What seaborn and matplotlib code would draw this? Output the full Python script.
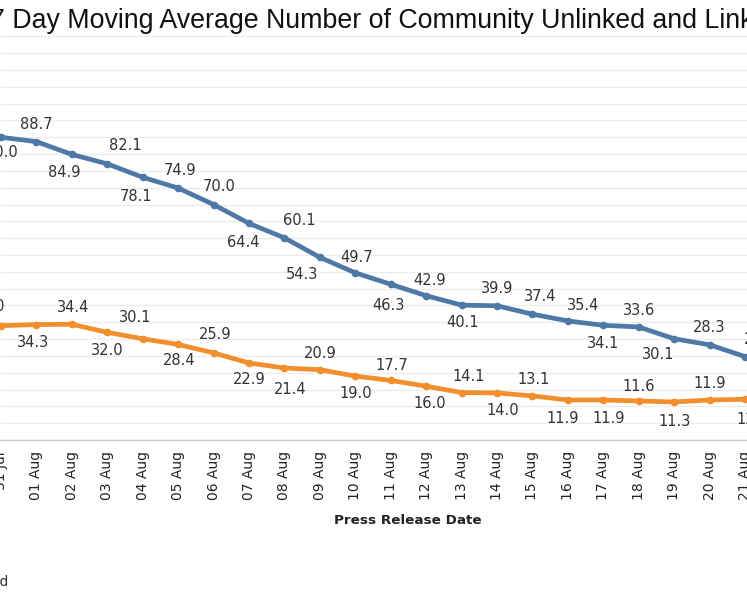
import numpy as np
import pandas as pd
import matplotlib
matplotlib.use("Agg")
import matplotlib.pyplot as plt
import seaborn as sns

# Data
dates = ["31 Jul", "01 Aug", "02 Aug", "03 Aug", "04 Aug", "05 Aug", "06 Aug",
         "07 Aug", "08 Aug", "09 Aug", "10 Aug", "11 Aug", "12 Aug", "13 Aug",
         "14 Aug", "15 Aug", "16 Aug", "17 Aug", "18 Aug", "19 Aug", "20 Aug",
         "21 Aug"]
unlinked = [90.0, 88.7, 84.9, 82.1, 78.1, 74.9, 70.0, 64.4, 60.1, 54.3, 49.7,
            46.3, 42.9, 40.1, 39.9, 37.4, 35.4, 34.1, 33.6, 30.1, 28.3, 24.8]
linked = [34.0, 34.3, 34.4, 32.0, 30.1, 28.4, 25.9, 22.9, 21.4, 20.9, 19.0,
          17.7, 16.0, 14.1, 14.0, 13.1, 11.9, 11.9, 11.6, 11.3, 11.9, 12.1]

# label placement (pixel offsets from the point, +dy = below)
unl_dx = [1, 0, -8, 18, -7, 2, 6, -6, 15, -18, 1, -2, 3, 1, 0, 8, 15, 0, 0, -16, 0, 15]
unl_dy = [15, -17, 18, -18, 19, -18, -18, 19, -17, 17, -15, 21, -15, 17, -17, -18, -15, 18, -16, 16, -17, -17]
lnk_dx = [-12, -3, 1, 0, -8, 1, 2, 0, 6, 0, 0, 1, 4, 7, 6, 1, -5, 5, 0, 0, 0, 8]
lnk_dy = [-19, 18, -17, 18, -21, 16, -18, 17, 21, -16, 17, -15, 17, -16, 18, -16, 19, 19, -14, 20, -16, 20]

BLUE = "#4e79a7"
ORANGE = "#f28e2b"

df = pd.DataFrame({
    "idx": list(range(len(dates))) * 2,
    "value": unlinked + linked,
    "series": ["Unlinked"] * len(dates) + ["Linked"] * len(dates),
})

sns.set_style("white")
plt.rcParams["font.family"] = ["DejaVu Sans"]

W, H = 747, 598
fig = plt.figure(figsize=(W / 100, H / 100), dpi=100)

# axis box: bottom at y=440px, top at y=33px, full width
px_per_day = 35.43
ax = fig.add_axes([0, (H - 440) / H, 1, 407 / H])
sns.lineplot(data=df, x="idx", y="value", hue="series",
             palette={"Unlinked": BLUE, "Linked": ORANGE},
             linewidth=3.4, marker="o", markersize=5.5, markeredgewidth=0,
             legend=False, ax=ax)

x0 = -1 / px_per_day
ax.set_xlim(x0, x0 + W / px_per_day)
ax.set_ylim(0, 121)
ax.set_yticks(np.arange(0, 125, 5))
ax.set_yticklabels([])
ax.tick_params(axis="y", length=0)
ax.grid(axis="y", color="#ececec", linewidth=1)
ax.set_axisbelow(True)

ax.set_xticks(range(len(dates)))
ax.set_xticklabels(dates, rotation=90, fontsize=10, color="#222222")
ax.tick_params(axis="x", length=5, width=1, color="#b0b0b0", pad=3)
ax.set_xlabel("")
ax.set_ylabel("")
for s in ["top", "right", "left"]:
    ax.spines[s].set_visible(False)
ax.spines["bottom"].set_color("#c8c8c8")
ax.spines["bottom"].set_linewidth(1)

for i in range(len(dates)):
    ax.annotate(f"{unlinked[i]:.1f}", (i, unlinked[i]),
                xytext=(unl_dx[i], -unl_dy[i]), textcoords="offset pixels",
                ha="center", va="center", fontsize=10.5, color="#333333",
                annotation_clip=False)
    ax.annotate(f"{linked[i]:.1f}", (i, linked[i]),
                xytext=(lnk_dx[i], -lnk_dy[i]), textcoords="offset pixels",
                ha="center", va="center", fontsize=10.5, color="#333333",
                annotation_clip=False)

fig.text(-10 / W, 1 - 28 / H,
         "7 Day Moving Average Number of Community Unlinked and Linked Cases",
         ha="left", va="baseline", fontsize=19.3, family="Liberation Sans",
         color="#111111")
fig.text(408 / W, 1 - 520 / H, "Press Release Date", ha="center", va="center",
         fontsize=9.7, fontweight="bold", color="#222222")
fig.text(9 / W, 1 - 582 / H, "Linked", ha="right", va="center",
         fontsize=10, color="#333333")

fig.savefig("out.png", dpi=100)
